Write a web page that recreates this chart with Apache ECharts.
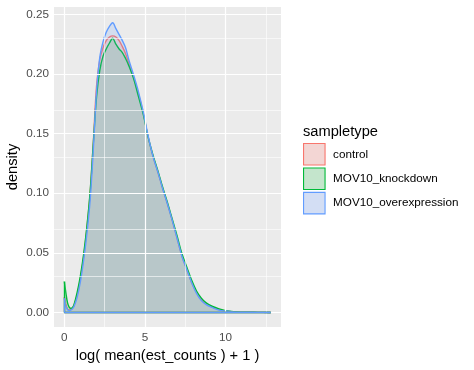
<!DOCTYPE html>
<html>
<head>
<meta charset="utf-8">
<script src="https://cdn.jsdelivr.net/npm/echarts@6/dist/echarts.min.js"></script>
<style>
html,body{margin:0;padding:0;background:#fff;}
#chart{width:474px;height:370px;}
</style>
</head>
<body>
<div id="chart"></div>
<script>
// ---- data ----
const xs = [0, 0.1, 0.2, 0.3, 0.4, 0.5, 0.6, 0.8, 1.0, 1.2, 1.4, 1.6, 1.8, 2.0, 2.2, 2.4, 2.6, 2.8, 3.0, 3.2, 3.4, 3.6, 3.8, 4.0, 4.3, 4.6, 4.9, 5.2, 5.5, 5.8, 6.1, 6.4, 6.7, 7.0, 7.3, 7.6, 7.9, 8.2, 8.5, 8.8, 9.2, 9.6, 10.0, 10.5, 11.0, 12.0, 12.8];
const control = [0.013, 0.007, 0.003, 0.002, 0.0025, 0.0035, 0.006, 0.015, 0.029, 0.047, 0.071, 0.100, 0.143, 0.190, 0.212, 0.222, 0.228, 0.231, 0.232, 0.231, 0.228, 0.223, 0.217, 0.209, 0.197, 0.183, 0.167, 0.147, 0.131, 0.118, 0.104, 0.091, 0.077, 0.062, 0.047, 0.036, 0.025, 0.017, 0.011, 0.0075, 0.0045, 0.0025, 0.0013, 0.0005, 0.0002, 0.0001, 0];
const knockdown = [0.026, 0.016, 0.008, 0.0045, 0.0035, 0.004, 0.0065, 0.017, 0.031, 0.049, 0.072, 0.101, 0.142, 0.181, 0.203, 0.215, 0.221, 0.226, 0.230, 0.225, 0.221, 0.218, 0.213, 0.207, 0.196, 0.181, 0.166, 0.147, 0.132, 0.119, 0.105, 0.092, 0.078, 0.064, 0.049, 0.038, 0.027, 0.018, 0.012, 0.008, 0.005, 0.003, 0.0015, 0.0006, 0.0003, 0.0001, 0];
const overexpression = [0.012, 0.005, 0.0025, 0.0015, 0.002, 0.003, 0.005, 0.013, 0.026, 0.044, 0.066, 0.094, 0.137, 0.186, 0.214, 0.227, 0.235, 0.240, 0.243, 0.238, 0.233, 0.228, 0.222, 0.212, 0.199, 0.185, 0.168, 0.148, 0.131, 0.118, 0.104, 0.091, 0.077, 0.062, 0.047, 0.036, 0.025, 0.016, 0.010, 0.0065, 0.004, 0.002, 0.0012, 0.0005, 0.0002, 0.0001, 0];
const seriesNames = ['control', 'MOV10_knockdown', 'MOV10_overexpression'];
const xTicks = [0, 5, 10];
const xMinor = [2.5, 7.5, 12.5];
const yTicks = [0, 0.05, 0.10, 0.15, 0.20, 0.25];
const yMinor = [0.025, 0.075, 0.125, 0.175, 0.225];

// ---- styling ----
const colors = ['#F8766D', '#00BA38', '#619CFF'];
const keyFills = ['#F3D6D4', '#C4E5CC', '#D3DEF4'];
const fillCols = ['rgba(248,118,109,0.26)', 'rgba(0,186,56,0.2)', 'rgba(97,156,255,0.24)'];
const FONT = '"Liberation Sans", Arial, Helvetica, sans-serif';

const xMin = -0.64, xMax = 13.44, yMin = -0.0122, yMax = 0.2562;

const chart = echarts.init(document.getElementById('chart'), null, {renderer: 'canvas'});

const gridSeries = {
  type: 'line', data: [], z: 1, silent: true,
  markLine: {
    silent: true, symbol: 'none', animation: false,
    label: {show: false},
    data: [
      ...xMinor.map(v => ({xAxis: v, lineStyle: {color: '#FFFFFF', width: 0.6, type: 'solid'}})),
      ...yMinor.map(v => ({yAxis: v, lineStyle: {color: '#FFFFFF', width: 0.6, type: 'solid'}})),
      ...xTicks.map(v => ({xAxis: v, lineStyle: {color: '#FFFFFF', width: 1.2, type: 'solid'}})),
      ...yTicks.map(v => ({yAxis: v, lineStyle: {color: '#FFFFFF', width: 1.2, type: 'solid'}}))
    ]
  }
};

const allY = [control, knockdown, overexpression];
const densitySeries = allY.map((ys, i) => ({
  name: seriesNames[i],
  type: 'line',
  z: 2 + i,
  data: xs.map((x, j) => [x, ys[j]]),
  smooth: 0.35,
  showSymbol: false,
  symbol: 'none',
  lineStyle: {color: colors[i], width: 1.4},
  itemStyle: {color: colors[i]},
  areaStyle: {color: fillCols[i], origin: 0},
  emphasis: {disabled: true},
  animation: false,
  markLine: {
    silent: true, symbol: 'none', animation: false, label: {show: false},
    lineStyle: {color: colors[i], width: 1.4, type: 'solid'},
    data: [
      [{coord: [xs[0], 0]}, {coord: [xs[xs.length - 1], 0]}],
      [{coord: [xs[0], 0]}, {coord: [xs[0], ys[0]]}]
    ]
  }
}));

const option = {
  animation: false,
  backgroundColor: '#FFFFFF',
  textStyle: {fontFamily: FONT},
  grid: {left: 54, right: 193, top: 7, bottom: 43, show: true, backgroundColor: '#EBEBEB', borderWidth: 0, containLabel: false},
  title: {
    text: 'sampletype', left: 303, top: 124, padding: 0,
    textStyle: {fontFamily: FONT, fontSize: 14.67, fontWeight: 'normal', color: '#000000'}
  },
  legend: {
    orient: 'vertical', left: 303, top: 143, padding: 0,
    icon: 'rect', itemWidth: 21.5, itemHeight: 21.5, itemGap: 1.8,
    selectedMode: false,
    textStyle: {fontFamily: FONT, fontSize: 11.7, color: '#000000', padding: [0, 0, 0, 3]},
    data: seriesNames.map((n, i) => ({
      name: n,
      itemStyle: {color: keyFills[i], borderColor: colors[i], borderWidth: 1.1}
    }))
  },
  xAxis: {
    type: 'value', min: xMin, max: xMax,
    name: 'log( mean(est_counts ) + 1 )', nameLocation: 'middle', nameGap: 20,
    nameTextStyle: {fontFamily: FONT, fontSize: 14.67, color: '#000000'},
    axisLine: {show: false},
    splitLine: {show: false},
    axisTick: {show: true, customValues: xTicks, length: 3, lineStyle: {color: '#333333', width: 1}},
    axisLabel: {show: true, customValues: xTicks, margin: 5, fontFamily: FONT, fontSize: 11.7, color: '#4D4D4D', formatter: v => String(v)}
  },
  yAxis: {
    type: 'value', min: yMin, max: yMax,
    name: 'density', nameLocation: 'middle', nameGap: 34, nameRotate: 90,
    nameTextStyle: {fontFamily: FONT, fontSize: 14.67, color: '#000000'},
    axisLine: {show: false},
    splitLine: {show: false},
    axisTick: {show: true, customValues: yTicks, length: 3, lineStyle: {color: '#333333', width: 1}},
    axisLabel: {show: true, customValues: yTicks, margin: 5, fontFamily: FONT, fontSize: 11.7, color: '#4D4D4D', formatter: v => v.toFixed(2)}
  },
  series: [gridSeries, ...densitySeries]
};
chart.setOption(option);
</script>
</body>
</html>
